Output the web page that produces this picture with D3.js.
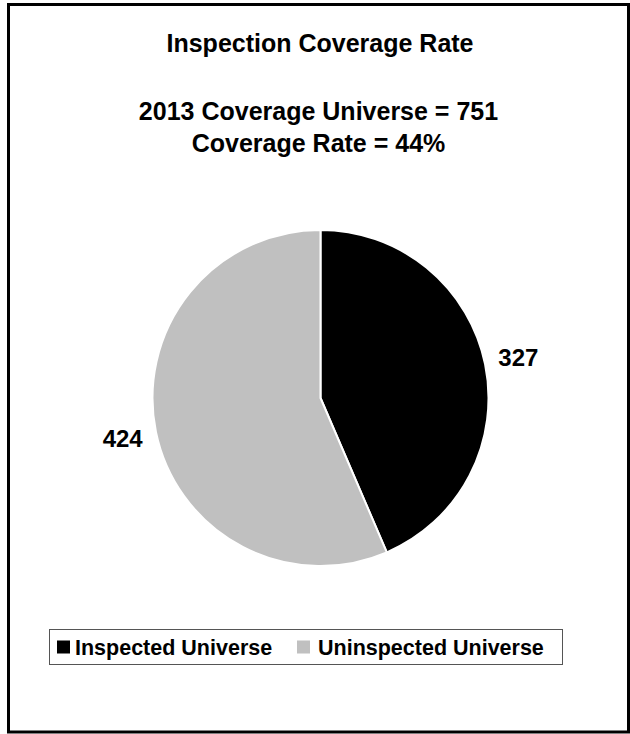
<!DOCTYPE html>
<html>
<head>
<meta charset="utf-8">
<script src="https://cdn.jsdelivr.net/npm/d3@7"></script>
<style>
  html, body { margin: 0; padding: 0; background: #fff; }
  svg { display: block; }
  text { font-family: "Liberation Sans", Arial, sans-serif; font-weight: bold; fill: #000; }
</style>
</head>
<body>
<svg id="chart" width="630" height="734"></svg>
<script>
const categories = ["Inspected Universe", "Uninspected Universe"];
const values = [327, 424];
const colors = ["#000000", "#C0C0C0"];
const titleLines = ["Inspection Coverage Rate"];
const subtitleLines = ["2013 Coverage Universe = 751", "Coverage Rate = 44%"];

const svg = d3.select("#chart");

// outer frame
svg.append("rect")
  .attr("x", 8.5).attr("y", 4.5)
  .attr("width", 620).attr("height", 727.5)
  .attr("fill", "#fff").attr("stroke", "#000").attr("stroke-width", 3);

// titles
svg.append("text").attr("x", 320).attr("y", 52)
  .attr("text-anchor", "middle").style("font-size", "25px")
  .text(titleLines[0]);
svg.selectAll("text.sub").data(subtitleLines).enter().append("text")
  .attr("class", "sub")
  .attr("x", 318.5).attr("y", (d, i) => 120 + i * 32)
  .attr("text-anchor", "middle").style("font-size", "25px")
  .text(d => d);

// pie
const cx = 320.5, cy = 398, r = 168;
const pie = d3.pie().sort(null).value(d => d)(values);
const arc = d3.arc().innerRadius(0).outerRadius(r);
const g = svg.append("g").attr("transform", `translate(${cx},${cy})`);
g.selectAll("path").data(pie).enter().append("path")
  .attr("d", arc)
  .attr("fill", (d, i) => colors[i])
  .attr("stroke", "#fff").attr("stroke-width", 2).attr("stroke-linejoin", "round");

const labelArc = d3.arc().innerRadius(r + 34).outerRadius(r + 34);
g.selectAll("text.lbl").data(pie).enter().append("text")
  .attr("class", "lbl")
  .attr("transform", d => `translate(${labelArc.centroid(d)})`)
  .attr("text-anchor", "middle").attr("dy", "0.35em")
  .style("font-size", "24px")
  .text(d => d.data);

// legend
const legend = svg.append("g");
legend.append("rect")
  .attr("x", 49.5).attr("y", 629.5).attr("width", 513).attr("height", 35)
  .attr("fill", "#fff").attr("stroke", "#555").attr("stroke-width", 1);
const legX = [57, 297];
const items = legend.selectAll("g.item").data(categories).enter().append("g")
  .attr("class", "item")
  .attr("transform", (d, i) => `translate(${legX[i]},0)`);
items.append("rect")
  .attr("x", 0).attr("y", 640.5).attr("width", 13).attr("height", 13)
  .attr("fill", (d, i) => colors[i]);
items.append("text")
  .attr("x", (d, i) => i === 0 ? 18 : 21).attr("y", 654.5)
  .style("font-size", "21.5px")
  .text(d => d);
</script>
</body>
</html>
